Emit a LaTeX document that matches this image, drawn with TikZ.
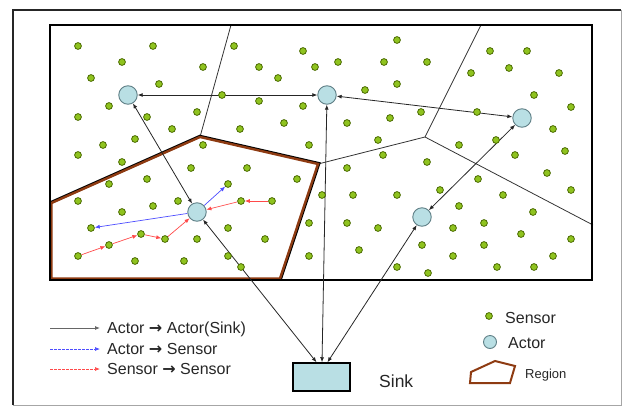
\documentclass[tikz,border=0pt]{standalone}
\usepackage{fontspec}
\setmainfont{Liberation Sans}
\newfontfamily\arrowfont{DejaVu Sans}
\usetikzlibrary{arrows.meta,calc,backgrounds}

\definecolor{sensorfill}{HTML}{8FC31F}
\definecolor{sensorline}{HTML}{4A6B00}
\definecolor{actorfill}{HTML}{B9DFE4}
\definecolor{actorline}{HTML}{5F7F86}
\definecolor{regionbrown}{HTML}{8E3B12}
\definecolor{linkblue}{HTML}{4D4DFF}
\definecolor{linkred}{HTML}{FF4A4A}

\newcommand{\tto}{{\arrowfont\bfseries\char"2192}}

\begin{document}
\begin{tikzpicture}[x=1pt,y=-1pt,
  sensor/.style={circle,draw=sensorline,fill=sensorfill,line width=0.8pt,minimum size=6.8pt,inner sep=0pt},
  actor/.style={circle,draw=actorline,fill=actorfill,line width=0.9pt,minimum size=18.5pt,inner sep=0pt},
  cell/.style={draw=black!80,line width=0.8pt},
  tip/.tip={Latex[length=5pt,width=4pt]},
  link/.style={black!85,line width=0.8pt,tip-tip},
  blink/.style={linkblue,line width=0.7pt,-tip},
  rlink/.style={linkred,line width=0.7pt,-tip},
  lbl/.style={anchor=west,inner sep=0pt,text=black!85,font=\fontsize{16}{19}\selectfont}
]
\useasboundingbox (0,0) rectangle (623,407);

% outer page frame
\draw[black!85,line width=1.2pt] (13,405) -- (13,10) -- (621,10);
\draw[black!35,line width=0.8pt] (621,10) -- (621,405) -- (13,405);

% cell corners
\coordinate (v1) at (231,25);
\coordinate (v2) at (481,25);
\coordinate (v3) at (593,225);
\coordinate (p1) at (51.5,203);
\coordinate (p2) at (200,137);
\coordinate (p3) at (318,164);
\coordinate (p4) at (280,278.5);
\coordinate (p5) at (51.5,278.5);
\coordinate (q1) at (425,137);

% actors
\node[actor] (a1) at (128,95) {};
\node[actor] (a2) at (327,95) {};
\node[actor] (a3) at (522,118) {};
\node[actor] (a0) at (197,212) {};
\node[actor] (a4) at (422,217) {};

% sensors taking part in the local exchange
\node[sensor] (b1) at (228,184) {};
\node[sensor] (b2) at (91,228) {};
\node[sensor] (r1) at (272,201) {};
\node[sensor] (r2) at (241,201) {};
\node[sensor] (r3) at (78,256) {};
\node[sensor] (r4) at (109,245) {};
\node[sensor] (r5) at (141,234) {};
\node[sensor] (r6) at (165,239) {};

% remaining sensors
\foreach \x/\y [count=\i] in {
  78/46,153/46,234/46,303/51,122/62,203/67,259/67,315/67,338/62,91/78,
  159/84,278/78,222/95,109/106,259/101,303/106,78/117,147/117,197/112,284/123,
  172/129,240/129,103/145,135/139,203/145,309/145,78/155,
  397/40,384/62,427/62,490/51,527/51,471/73,509/68,559/73,365/90,397/84,
  534/95,571/107,390/118,421/112,477/112,347/123,553/129,378/140,459/145,496/140,
  515/155,565/151,383/155,
  122/162,191/168,247/168,297/179,147/179,109/184,322/195,78/201,153/206,178/201,
  122/212,197/239,228/228,265/239,309/223,135/261,184/261,228/256,241/267,309/256,
  347/168,427/162,547/173,478/179,571/190,353/195,397/195,440/190,503/195,459/206,
  533/212,347/223,378/228,453/228,484/223,521/234,571/239,359/250,422/245,484/245,
  453/256,553/256,397/267,428/273,497/267,534/267}
  \node[sensor] (s\i) at (\x,\y) {};

% sink
\node[draw,line width=1.5pt,fill=actorfill,minimum width=57pt,minimum height=28pt,inner sep=0pt] (sink) at (321.5,377) {};
\node[anchor=west,inner sep=0pt,text=black!85,font=\fontsize{17.5}{20}\selectfont] (sinklbl) at (379,381) {Sink};
\coordinate (k1) at ($(sink.north)+(-5,0)$);
\coordinate (k2) at ($(sink.north)+(0.5,0)$);
\coordinate (k3) at ($(sink.north)+(6,0)$);

\begin{scope}[on background layer]
  % cell boundaries
  \draw[cell] (v1) -- (p2);
  \draw[cell] (v2) -- (q1) -- (p3);
  \draw[cell] (q1) -- (v3);
  % monitored region: dark rim on the outside, brown stroke on top
  \begin{scope}[even odd rule]
    \clip (0,0) rectangle (623,407) (p1) -- (p2) -- (p3) -- (p4) -- (p5) -- cycle;
    \draw[black,line width=4.4pt,line join=miter] (p1) -- (p2) -- (p3) -- (p4) -- (p5) -- cycle;
  \end{scope}
  \draw[regionbrown,line width=2.4pt,line join=miter] (p1) -- (p2) -- (p3) -- (p4) -- (p5) -- cycle;
  % field frame
  \draw[line width=2pt] (50,25) rectangle (592,280);
  % actor links
  \draw[link] (a1) -- (a2);
  \draw[link] (a2) -- (a3);
  \draw[link] (a1) -- (a0);
  \draw[link] (a3) -- (a4);
  \draw[link] (a0) -- (k1);
  \draw[link] (a2) -- (k2);
  \draw[link] (a4) -- (k3);
  % actor to sensor
  \draw[blink] (a0) -- (b1);
  \draw[blink] (a0) -- (b2);
  % sensor to sensor
  \draw[rlink] (r1) -- (r2);
  \draw[rlink] (r2) -- (a0);
  \draw[rlink] (r3) -- (r4);
  \draw[rlink] (r4) -- (r5);
  \draw[rlink] (r5) -- (r6);
  \draw[rlink] (r6) -- (a0);
\end{scope}

% legend: link types
\coordinate (l1a) at (50,328); \coordinate (l1b) at (100,328);
\coordinate (l2a) at (50,349); \coordinate (l2b) at (100,349);
\coordinate (l3a) at (50,369); \coordinate (l3b) at (100,369);
\draw[black!60,line width=0.8pt,-tip] (l1a) -- (l1b);
\draw[linkblue,line width=0.7pt,dash pattern=on 2.5pt off 1.5pt,-tip] (l2a) -- (l2b);
\draw[linkred,line width=0.7pt,dash pattern=on 2.5pt off 1.5pt,-tip] (l3a) -- (l3b);
\node[lbl] (t1) at (107,329) {Actor \tto\ Actor(Sink)};
\node[lbl] (t2) at (107,349) {Actor \tto\ Sensor};
\node[lbl] (t3) at (107,369) {Sensor \tto\ Sensor};

% legend: symbols
\node[sensor] (ls) at (489,316) {};
\node[lbl] (lst) at (505,318) {Sensor};
\node[actor,minimum size=13pt] (la) at (490,342) {};
\node[lbl] (lat) at (508,343) {Actor};
\draw[regionbrown,line width=2pt,line join=miter] (470,383) -- (471,372) -- (495,361) -- (515,366) -- (510,383) -- cycle;
\node[lbl,font=\fontsize{13}{15}\selectfont] (lrt) at (525,375) {Region};
\end{tikzpicture}
\end{document}
